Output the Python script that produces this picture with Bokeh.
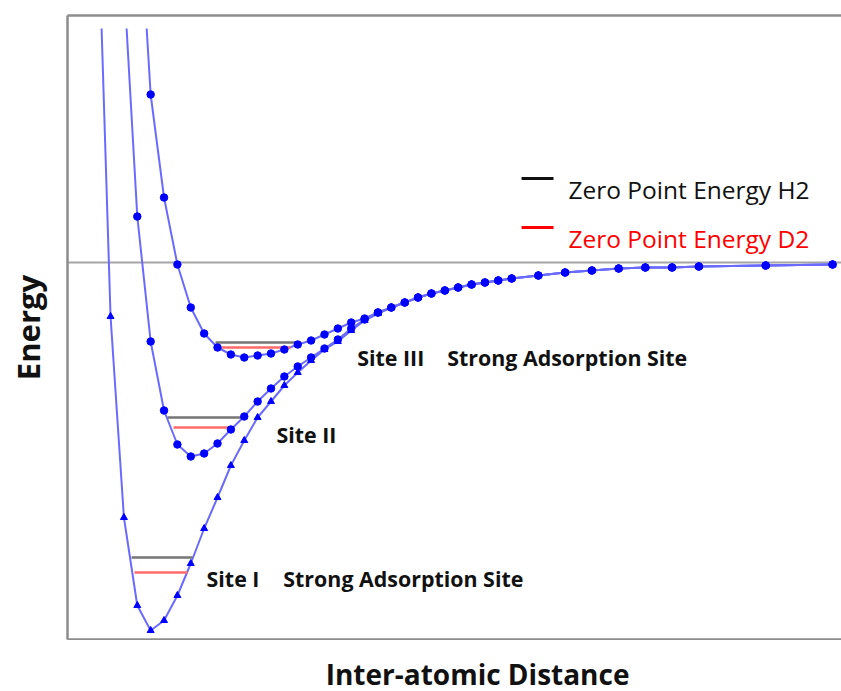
from bokeh.plotting import figure
from bokeh.layouts import column
from bokeh.models import Range1d, FixedTicker, LinearAxis, Span, ColumnDataSource
from bokeh.core.properties import value
from bokeh.embed import file_html
from bokeh.resources import INLINE

# ---------------- data (arbitrary units: distance, energy) ----------------
tail_x = [2.5, 2.6, 2.7, 2.8, 2.9, 3.0, 3.1, 3.2, 3.3, 3.5, 3.7, 3.9, 4.1, 4.3, 4.5, 4.7, 5.2, 5.7]
tail_e = [-0.40, -0.35, -0.31, -0.28, -0.25, -0.22, -0.20, -0.18, -0.16, -0.13, -0.10, -0.08,
          -0.06, -0.05, -0.05, -0.04, -0.03, -0.02]

# Site I (triangles) - first entry is where the curve leaves the top of the chart
site1_x = [0.233, 0.3, 0.4, 0.5, 0.6, 0.7, 0.8, 0.9, 1.0, 1.1, 1.2, 1.3, 1.4, 1.5, 1.6, 1.7,
           1.8, 1.9, 2.0, 2.1, 2.2, 2.3, 2.4] + tail_x
site1_e = [2.34, -0.54, -2.55, -3.43, -3.68, -3.58, -3.33, -3.01, -2.66, -2.35, -2.03, -1.78,
           -1.55, -1.39, -1.23, -1.10, -0.98, -0.87, -0.79, -0.68, -0.58, -0.51, -0.45] + tail_e

# Site II (circles)
site2_x = [0.42, 0.5, 0.6, 0.7, 0.8, 0.9, 1.0, 1.1, 1.2, 1.3, 1.4, 1.5, 1.6, 1.7, 1.8, 1.9,
           2.0, 2.1, 2.2, 2.3, 2.4] + tail_x
site2_e = [2.34, 0.46, -0.79, -1.48, -1.82, -1.94, -1.91, -1.81, -1.67, -1.54, -1.39, -1.26,
           -1.14, -1.04, -0.95, -0.86, -0.77, -0.66, -0.57, -0.50, -0.45] + tail_e

# Site III (circles)
site3_x = [0.57, 0.6, 0.7, 0.8, 0.9, 1.0, 1.1, 1.2, 1.3, 1.4, 1.5, 1.6, 1.7, 1.8, 1.9, 2.0,
           2.1, 2.2, 2.3, 2.4] + tail_x
site3_e = [2.34, 1.68, 0.65, -0.02, -0.45, -0.71, -0.85, -0.92, -0.95, -0.93, -0.91, -0.87,
           -0.82, -0.78, -0.72, -0.66, -0.60, -0.56, -0.50, -0.45] + tail_e

# Zero point energy levels (H2 and D2) per site
zpe_h2_x0 = [0.457, 0.726, 1.085]
zpe_h2_x1 = [0.913, 1.287, 1.706]
zpe_h2_e = [-2.95, -1.55, -0.80]
zpe_d2_x0 = [0.479, 0.771, 1.130]
zpe_d2_x1 = [0.876, 1.183, 1.646]
zpe_d2_e = [-3.10, -1.65, -0.85]

site_labels = ["Site I", "Strong Adsorption Site", "Site II", "Site III", "Strong Adsorption Site"]
legend_labels = ["Zero Point Energy H2", "Zero Point Energy D2"]
x_title = "Inter-atomic Distance"
y_title = "Energy"

# ---------------- main figure ----------------
p = figure(width=841, height=640, x_range=Range1d(-0.022, 5.767), y_range=Range1d(-3.77, 2.47),
           output_backend="svg", toolbar_location=None,
           x_axis_location=None, y_axis_location=None,
           min_border_left=67, min_border_right=0, min_border_top=15, min_border_bottom=1)
p.outline_line_color = None
p.grid.visible = False
p.background_fill_color = "white"
p.border_fill_color = "white"

bottom_axis = LinearAxis()
left_axis = LinearAxis(axis_label=y_title)
top_axis = LinearAxis()
p.add_layout(bottom_axis, "below")
p.add_layout(left_axis, "left")
p.add_layout(top_axis, "above")
for ax in [bottom_axis, left_axis, top_axis]:
    ax.ticker = FixedTicker(ticks=[])
    ax.major_tick_in = 0
    ax.major_tick_out = 0
    ax.minor_tick_in = 0
    ax.minor_tick_out = 0
    ax.axis_line_color = "#8c8c8c"
    ax.axis_line_width = 2.5

left_axis.axis_label_text_font = "Open Sans"
left_axis.axis_label_text_font_style = "bold"
left_axis.axis_label_text_font_size = "31px"
left_axis.axis_label_text_color = "#111111"
left_axis.axis_label_standoff = 19

zero = Span(location=0, dimension="width", line_color="#a6a6a6", line_width=2, level="underlay")
p.add_layout(zero)

line_col = "#6a6aff"
mk_col = "#0000ff"
p.line(site1_x, site1_e, line_color=line_col, line_width=2)
p.line(site2_x, site2_e, line_color=line_col, line_width=2)
p.line(site3_x, site3_e, line_color=line_col, line_width=2)

p.segment(x0=zpe_h2_x0, x1=zpe_h2_x1, y0=zpe_h2_e, y1=zpe_h2_e, line_color="#757575", line_width=2.5)
p.segment(x0=zpe_d2_x0, x1=zpe_d2_x1, y0=zpe_d2_e, y1=zpe_d2_e, line_color="#ff6b6b", line_width=2.5)

p.scatter(site1_x[1:], site1_e[1:], marker="triangle", size=7, fill_color=mk_col, line_color=mk_col)
p.scatter(site2_x[1:], site2_e[1:], marker="circle", size=7.5, fill_color=mk_col, line_color=mk_col)
p.scatter(site3_x[1:], site3_e[1:], marker="circle", size=7.5, fill_color=mk_col, line_color=mk_col)

# site annotations
lab_src = ColumnDataSource(dict(x=[1.018, 1.592, 1.541, 2.145, 2.818],
                                y=[-3.163, -3.163, -1.72, -0.947, -0.947],
                                text=site_labels))
p.text(x="x", y="y", text="text", source=lab_src, text_font=value("Open Sans"),
       text_font_style="bold", text_font_size="21.4px", text_color="#111111",
       text_baseline="alphabetic", text_align="left")

# legend
leg_colors = ["#111111", "#ff0000"]
p.segment(x0=[3.374, 3.374], x1=[3.613, 3.613], y0=[0.84, 0.35], y1=[0.84, 0.35],
          line_color=leg_colors, line_width=3)
p.text(x=[3.725, 3.725], y=[0.73, 0.243], text=legend_labels, text_color=leg_colors,
       text_font=value("Open Sans"), text_font_size="24.5px",
       text_baseline="alphabetic", text_align="left")

# ---------------- strip below the plot for the x-axis title ----------------
# (its frame is aligned with the main frame, so it shares the same x range)
b = figure(width=841, height=51, x_range=p.x_range, y_range=Range1d(0, 51),
           output_backend="svg", toolbar_location=None,
           x_axis_location=None, y_axis_location=None,
           min_border_left=0, min_border_right=0, min_border_top=0, min_border_bottom=0)
b.outline_line_color = None
b.grid.visible = False
b.border_fill_color = "white"
b.text(x=[3.045], y=[18], text=[x_title], text_font=value("Open Sans"), text_font_style="bold",
       text_font_size="28px", text_color="#111111", text_align="center", text_baseline="middle")

layout = column(p, b, spacing=0)
open("out.html", "w").write(file_html(layout, INLINE))
